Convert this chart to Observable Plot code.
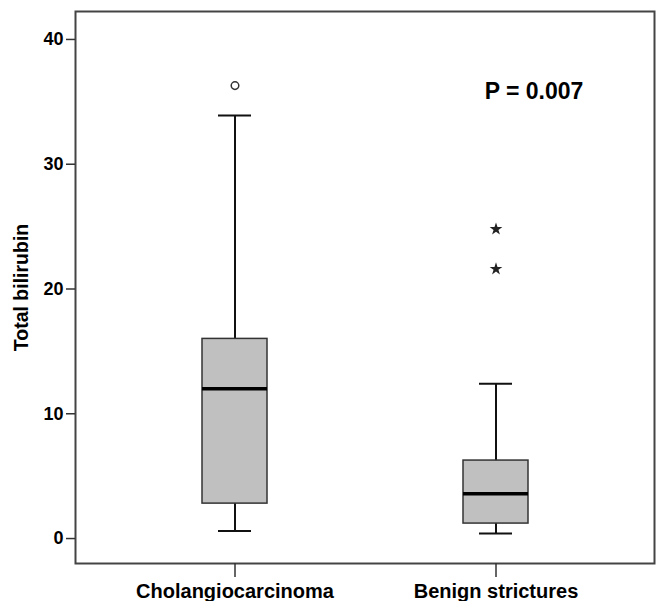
<!DOCTYPE html>
<html>
<head>
<meta charset="utf-8">
<script src="https://cdn.jsdelivr.net/npm/d3@7"></script>
<script src="https://cdn.jsdelivr.net/npm/@observablehq/plot@0.6"></script>
<style>
  html, body { margin: 0; padding: 0; background: #fff; }
  #chart svg { display: block; }
</style>
</head>
<body>
<div id="chart"></div>
<script>
// Data
const categories = ["Cholangiocarcinoma", "Benign strictures"];
const whiskerLow = [0.6, 0.4];
const q1 = [2.8, 1.2];
const median = [12.0, 3.6];
const q3 = [16.0, 6.25];
const whiskerHigh = [33.9, 12.4];
const circleCats = ["Cholangiocarcinoma"];
const circleValues = [36.3];
const starCats = ["Benign strictures", "Benign strictures"];
const starValues = [24.8, 21.6];
const yTicks = [0, 10, 20, 30, 40];
const yLabel = "Total bilirubin";
const annotationText = ["P = 0.007"];
const annotationCat = ["Benign strictures"];
const annotationValue = [35.8];

const boxes = categories.map((c, i) => ({
  cat: c, lo: whiskerLow[i], q1: q1[i], med: median[i], q3: q3[i], hi: whiskerHigh[i]
}));
const circles = circleCats.map((c, i) => ({cat: c, v: circleValues[i]}));
const stars = starCats.map((c, i) => ({cat: c, v: starValues[i]}));
const notes = annotationText.map((t, i) => ({cat: annotationCat[i], v: annotationValue[i], t}));

const font = "'Liberation Sans', Arial, sans-serif";

const chart = Plot.plot({
  width: 657,
  height: 601,
  marginLeft: 75,
  marginRight: 3,
  marginTop: 11,
  marginBottom: 38,
  style: {fontFamily: font, fontWeight: "bold", color: "#000", background: "#fff"},
  x: {type: "band", domain: categories, paddingInner: 0.752, paddingOuter: 0.481, label: null},
  y: {domain: [-2.0, 42.24], label: null},
  marks: [
    Plot.frame({stroke: "#444", strokeWidth: 2}),
    Plot.axisY({ticks: yTicks, tickSize: 9, tickPadding: 3, fontSize: 18, fontWeight: "bold", stroke: "#333", strokeWidth: 1.5, label: null}),
    Plot.axisX({tickSize: 14, tickPadding: 6, fontSize: 20, fontWeight: "bold", stroke: "#333", strokeWidth: 1.5, label: null}),
    Plot.text([yLabel], {frameAnchor: "left", dx: -54, rotate: -90, textAnchor: "middle", fontSize: 19.5, fontWeight: "bold", fill: "#000", text: d => d}),
    Plot.ruleX(boxes, {x: "cat", y1: "lo", y2: "hi", stroke: "#111", strokeWidth: 2}),
    Plot.tickY(boxes, {x: "cat", y: "lo", stroke: "#111", strokeWidth: 2, insetLeft: 16, insetRight: 16}),
    Plot.tickY(boxes, {x: "cat", y: "hi", stroke: "#111", strokeWidth: 2, insetLeft: 16, insetRight: 16}),
    Plot.barY(boxes, {x: "cat", y1: "q1", y2: "q3", fill: "#c0c0c0", stroke: "#333", strokeWidth: 1.5}),
    Plot.tickY(boxes, {x: "cat", y: "med", stroke: "#000", strokeWidth: 3.5}),
    Plot.dot(circles, {x: "cat", y: "v", r: 3.8, stroke: "#333", strokeWidth: 1.5, fill: "none"}),
    Plot.dot(stars, {x: "cat", y: "v", symbol: "star", r: 4, fill: "#222", stroke: "none"}),
    Plot.text(notes, {x: "cat", y: "v", text: "t", dx: 38, fontSize: 23, fontWeight: "bold", fill: "#000"})
  ]
});
document.getElementById("chart").appendChild(chart);
</script>
</body>
</html>
